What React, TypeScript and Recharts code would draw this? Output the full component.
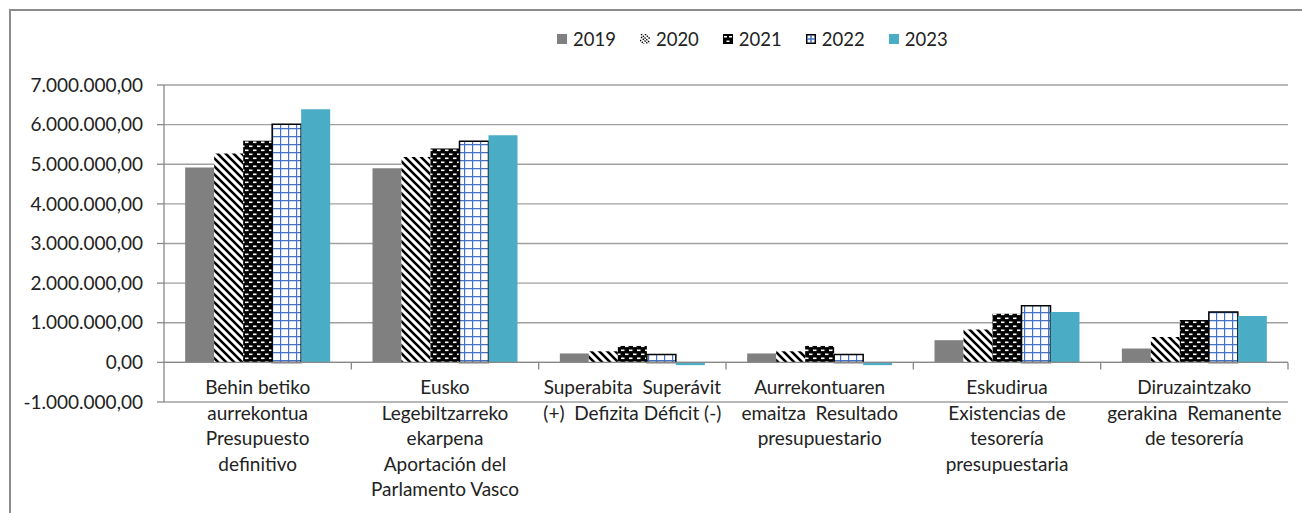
import { BarChart, Bar, XAxis, YAxis, CartesianGrid, ReferenceLine } from 'recharts'

const categoryLines: string[][] = [
  ['Behin betiko', 'aurrekontua', 'Presupuesto', 'definitivo'],
  ['Eusko', 'Legebiltzarreko', 'ekarpena', 'Aportación del', 'Parlamento Vasco'],
  ['Superabita  Superávit', '(+)  Defizita Déficit (-)'],
  ['Aurrekontuaren', 'emaitza  Resultado', 'presupuestario'],
  ['Eskudirua', 'Existencias de', 'tesorería', 'presupuestaria'],
  ['Diruzaintzako', 'gerakina  Remanente', 'de tesorería'],
]

const years = ['2019', '2020', '2021', '2022', '2023']

const values2019 = [4920000, 4900000, 225000, 225000, 560000, 350000]
const values2020 = [5270000, 5180000, 280000, 280000, 830000, 640000]
const values2021 = [5590000, 5400000, 415000, 415000, 1230000, 1070000]
const values2022 = [6010000, 5580000, 200000, 200000, 1430000, 1270000]
const values2023 = [6390000, 5730000, -70000, -70000, 1270000, 1170000]

const yTicks = [-1000000, 0, 1000000, 2000000, 3000000, 4000000, 5000000, 6000000, 7000000]

const data = categoryLines.map((lines, i) => ({
  name: lines.join(' '),
  y2019: values2019[i],
  y2020: values2020[i],
  y2021: values2021[i],
  y2022: values2022[i],
  y2023: values2023[i],
}))

const FONT = 'Lato, "Liberation Sans", sans-serif'
const TEXT = '#222'
const FS = 19
const W = 1302
const H = 513
const TOP = 85
const BOTTOM = 402
const LEFT = 164
const RIGHT = 1288
const zeroY = TOP + ((BOTTOM - TOP) * 7) / 8
const bandW = (RIGHT - LEFT) / categoryLines.length

const fills = ['#808080', 'url(#p2020)', 'url(#p2021)', 'url(#p2022)', '#4BACC6']

function fmt(v: number) {
  const neg = v < 0
  const s = Math.abs(Math.round(v)).toString().replace(/\B(?=(\d{3})+(?!\d))/g, '.')
  return (neg ? '-' : '') + s + ',00'
}

function Patterns({ prefix }: { prefix: string }) {
  return (
    <defs>
      <pattern id={prefix + '2020'} width="8" height="8" patternUnits="userSpaceOnUse">
        <rect width="8" height="8" fill="#fff" />
        <path d="M-2,-2 L10,10 M-2,6 L2,10 M6,-2 L10,2" stroke="#000" strokeWidth="2.6" />
      </pattern>
      <pattern id={prefix + '2021'} width="8" height="8" patternUnits="userSpaceOnUse">
        <rect width="8" height="8" fill="#000" />
        <rect x="1" y="1.5" width="3.5" height="1.6" fill="#fff" />
        <rect x="5" y="5.5" width="3.5" height="1.6" fill="#fff" />
        <rect x="-3" y="5.5" width="3.5" height="1.6" fill="#fff" />
      </pattern>
      <pattern id={prefix + '2022'} width="8" height="8" patternUnits="userSpaceOnUse">
        <rect width="8" height="8" fill="#fff" />
        <path d="M0,0 L8,0 M0,0 L0,8" stroke="#4472C4" strokeWidth="2.4" />
      </pattern>
    </defs>
  )
}

function CategoryTick(props: any) {
  const { x, payload, index } = props
  const lines = categoryLines[index] ?? [String(payload.value)]
  return (
    <g>
      <line x1={x + bandW / 2} x2={x + bandW / 2} y1={zeroY} y2={zeroY + 7} stroke="#888" strokeWidth={1.3} />
      <text x={x} y={zeroY + 32} textAnchor="middle" fontFamily={FONT} fontSize={FS} fill={TEXT}>
        {lines.map((l, i) => (
          <tspan key={i} x={x} dy={i === 0 ? 0 : 25.5} style={{ whiteSpace: 'pre' }}>
            {l}
          </tspan>
        ))}
      </text>
    </g>
  )
}

function LegendIcon({ i }: { i: number }) {
  if (i === 1) {
    return (
      <svg width={10} height={10} style={{ marginRight: 6 }}>
        <path d="M1,3 L8,10 M1,0 L10,9 M5,0 L10,5 M0,6 L4,10" stroke="#000" strokeWidth={1.3} strokeDasharray="1.5 1" />
      </svg>
    )
  }
  if (i === 2) {
    return (
      <svg width={10} height={10} style={{ marginRight: 6 }}>
        <rect width={10} height={10} fill="#000" />
        <rect x={1} y={2} width={3} height={1.5} fill="#fff" />
        <rect x={6} y={2} width={3} height={1.5} fill="#fff" />
        <rect x={3.5} y={6.5} width={3} height={1.5} fill="#fff" />
      </svg>
    )
  }
  if (i === 3) {
    return (
      <svg width={10} height={10} style={{ marginRight: 6 }}>
        <rect x={0.75} y={0.75} width={8.5} height={8.5} fill="#fff" stroke="#000" strokeWidth={1.5} />
        <path d="M5,1 L5,9 M1,5 L9,5" stroke="#4472C4" strokeWidth={1.6} />
      </svg>
    )
  }
  return (
    <svg width={10} height={10} style={{ marginRight: 6 }}>
      <rect width={10} height={10} fill={fills[i]} />
    </svg>
  )
}

function LegendBox() {
  return (
    <div
      style={{
        position: 'absolute',
        left: 557,
        top: 28,
        display: 'flex',
        alignItems: 'center',
        fontFamily: FONT,
        fontSize: 18.5,
        color: TEXT,
      }}
    >
      {years.map((y, i) => (
        <div key={y} style={{ display: 'flex', alignItems: 'center', marginRight: 24 }}>
          <LegendIcon i={i} />
          <span>{y}</span>
        </div>
      ))}
    </div>
  )
}

export default function App() {
  return (
    <div style={{ position: 'fixed', left: 0, top: 0, width: W, height: H, overflow: 'hidden', background: '#fff' }}>
      <div
        style={{
          position: 'absolute',
          left: 9,
          top: 9,
          width: W + 100,
          height: H + 100,
          border: '2px solid #8c8c8c',
        }}
      />
      <div style={{ position: 'absolute', left: 0, top: 0 }}>
        <BarChart
          width={W}
          height={H}
          data={data}
          margin={{ top: TOP, right: W - RIGHT, bottom: 0, left: 0 }}
          barCategoryGap="11.3%"
          barGap={0}
        >
          <Patterns prefix="p" />
          <CartesianGrid vertical={false} stroke="#a0a0a0" strokeWidth={1.3} />
          <XAxis dataKey="name" axisLine={false} tickLine={false} tick={<CategoryTick />} interval={0} height={H - BOTTOM} />
          <YAxis
            width={LEFT}
            domain={[-1000000, 7000000]}
            ticks={yTicks}
            interval={0}
            tickFormatter={fmt}
            tickSize={7}
            tickMargin={14}
            axisLine={{ stroke: '#888', strokeWidth: 1.3 }}
            tickLine={{ stroke: '#888', strokeWidth: 1.3 }}
            tick={{ fontFamily: FONT, fontSize: FS, fill: TEXT }}
          />
          {years.map((y, i) => (
            <Bar
              key={y}
              dataKey={'y' + y}
              fill={fills[i]}
              stroke={i === 3 ? '#000' : 'none'}
              strokeWidth={i === 3 ? 1.5 : 0}
              isAnimationActive={false}
            />
          ))}
          <ReferenceLine y={0} stroke="#888" strokeWidth={1.3} />
        </BarChart>
      </div>
      <LegendBox />
    </div>
  )
}
